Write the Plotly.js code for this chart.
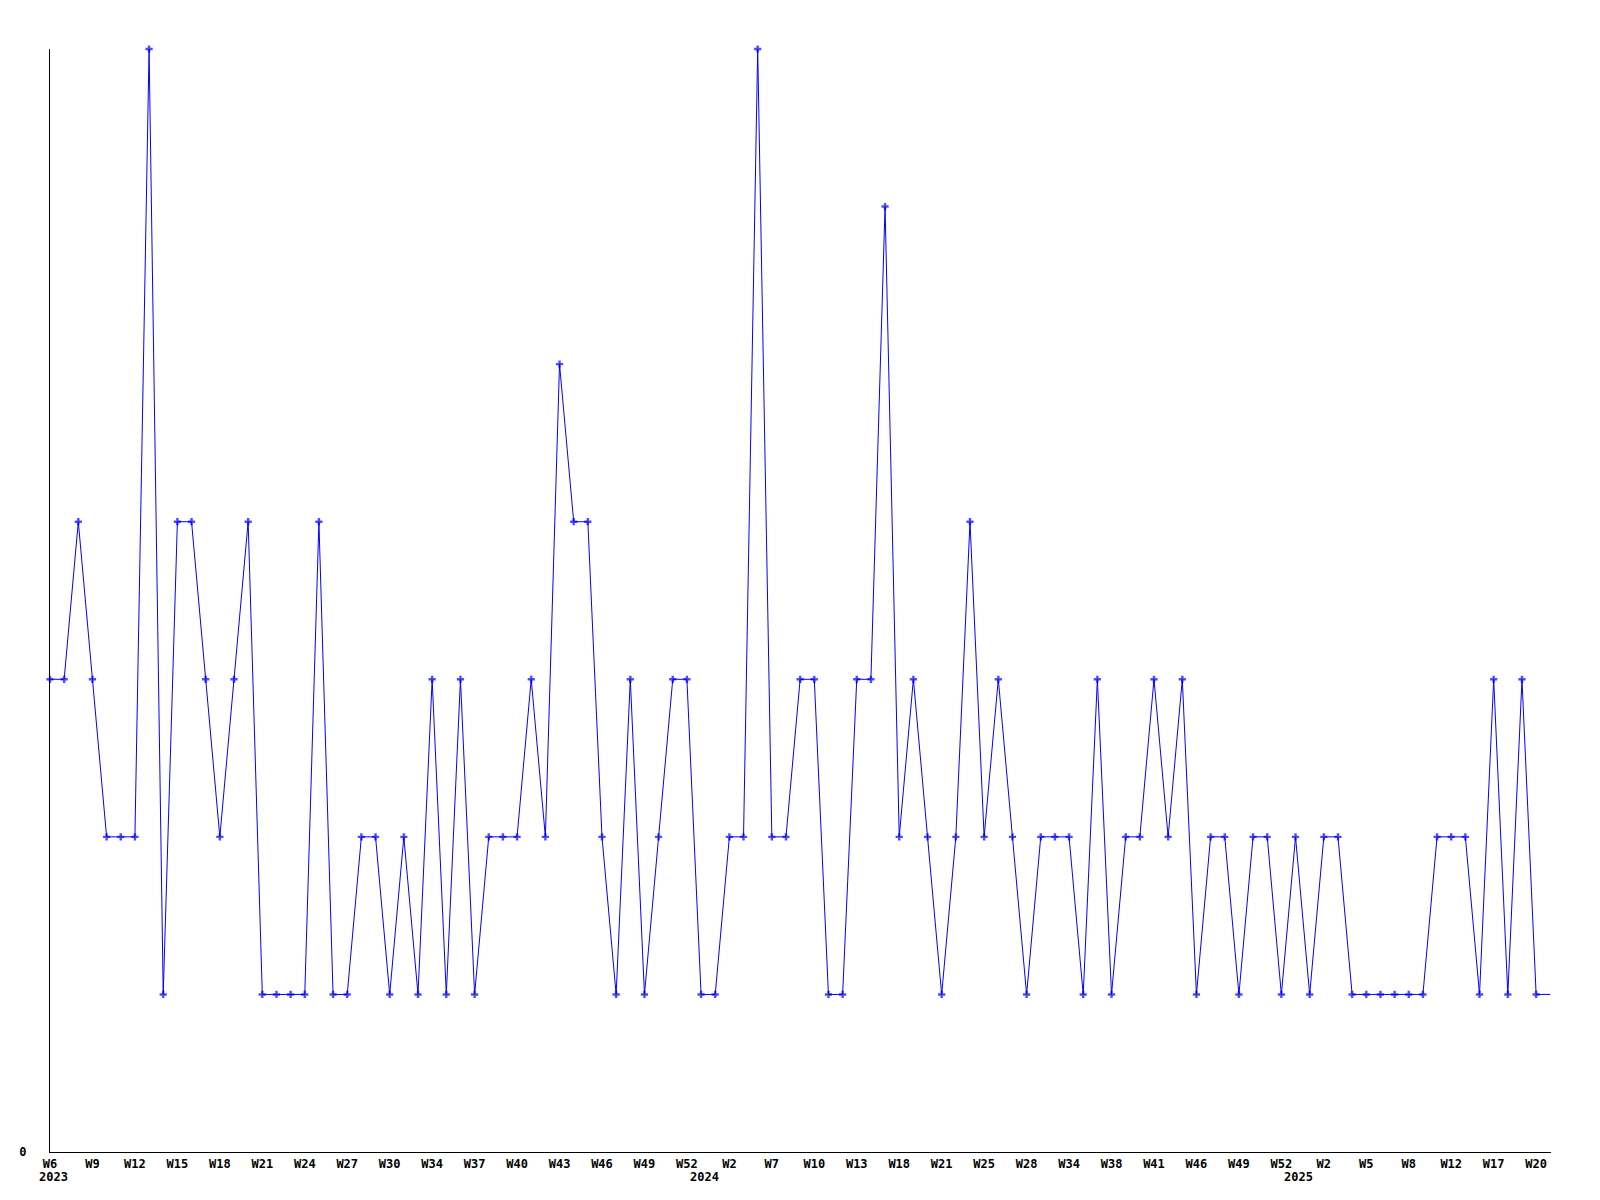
<!DOCTYPE html>
<html>
<head>
<meta charset="utf-8">
<script src="https://cdn.plot.ly/plotly-3.0.1.min.js"></script>
<style>html,body{margin:0;padding:0;background:#fff;}#chart{width:1600px;height:1200px;}</style>
</head>
<body>
<div id="chart"></div>
<script>
// Weekly values, one per data point (evenly spaced); last entry continues the line to the plot edge
var values = [
  3,3,4,3,2,2,2,7,1,4,4,3,2,3,4,1,1,1,1,4,
  1,1,2,2,1,2,1,3,1,3,1,2,2,2,3,2,5,4,4,2,
  1,3,1,2,3,3,1,1,2,2,7,2,2,3,3,1,1,3,3,6,
  2,3,2,1,2,4,2,3,2,1,2,2,2,1,3,1,2,2,3,2,
  3,1,2,2,1,2,2,1,2,1,2,2,1,1,1,1,1,1,2,2,
  2,1,3,1,3,1,1
];
// Tick labels, shown every third data point
var tickLabels = ['W6','W9','W12','W15','W18','W21','W24','W27','W30','W34','W37','W40',
  'W43','W46','W49','W52','W2','W7','W10','W13','W18','W21','W25','W28',
  'W34','W38','W41','W46','W49','W52','W2','W5','W8','W12','W17','W20'];
var tickStep = 3;
// Year labels and the index of the first data point of each year
var yearLabels = ['2023','2024','2025'];
var yearStartIndex = [0,46,88];
var yTickVals = [0];
var yTickText = ['0'];

var n = values.length;
var xs = values.map(function(_, i){ return i; });
var sizes = values.map(function(_, i){ return i === n - 1 ? 0 : 6; });
var tickVals = tickLabels.map(function(_, i){ return i * tickStep; });

var font = {family: '"DejaVu Sans Mono", "Liberation Mono", monospace', size: 12, color: '#000'};

var trace = {
  x: xs, y: values, type: 'scatter', mode: 'lines+markers',
  line: {color: '#0000ff', width: 1},
  marker: {color: '#0000ff', size: sizes, symbol: 'cross', line: {width: 0}},
  cliponaxis: false, hoverinfo: 'none'
};

var annotations = yearLabels.map(function(t, i){
  return {x: yearStartIndex[i], xref: 'x', y: 0, yref: 'paper', yshift: -25, xshift: 3,
    text: '<b>' + t + '</b>', showarrow: false, xanchor: 'center', yanchor: 'middle', font: font};
});

var layout = {
  width: 1600, height: 1200,
  margin: {l: 50, r: 49, t: 49, b: 48},
  paper_bgcolor: '#fff', plot_bgcolor: '#fff',
  showlegend: false,
  xaxis: {
    range: [0, 106.05], tickvals: tickVals,
    ticktext: tickLabels.map(function(t){ return '<b>' + t + '</b>'; }),
    tickangle: 0,
    showgrid: false, zeroline: false, showline: true, linecolor: '#000', linewidth: 1,
    ticks: '', tickfont: font, ticklabelstandoff: 1
  },
  yaxis: {
    range: [0, 7], tickvals: yTickVals,
    ticktext: yTickText.map(function(t){ return '<b>' + t + '</b>'; }),
    showgrid: false, zeroline: false, showline: true, linecolor: '#000', linewidth: 1,
    ticks: '', tickfont: font, ticklabelstandoff: 20
  },
  annotations: annotations
};

Plotly.newPlot('chart', [trace], layout, {staticPlot: true, displayModeBar: false});
</script>
</body>
</html>
